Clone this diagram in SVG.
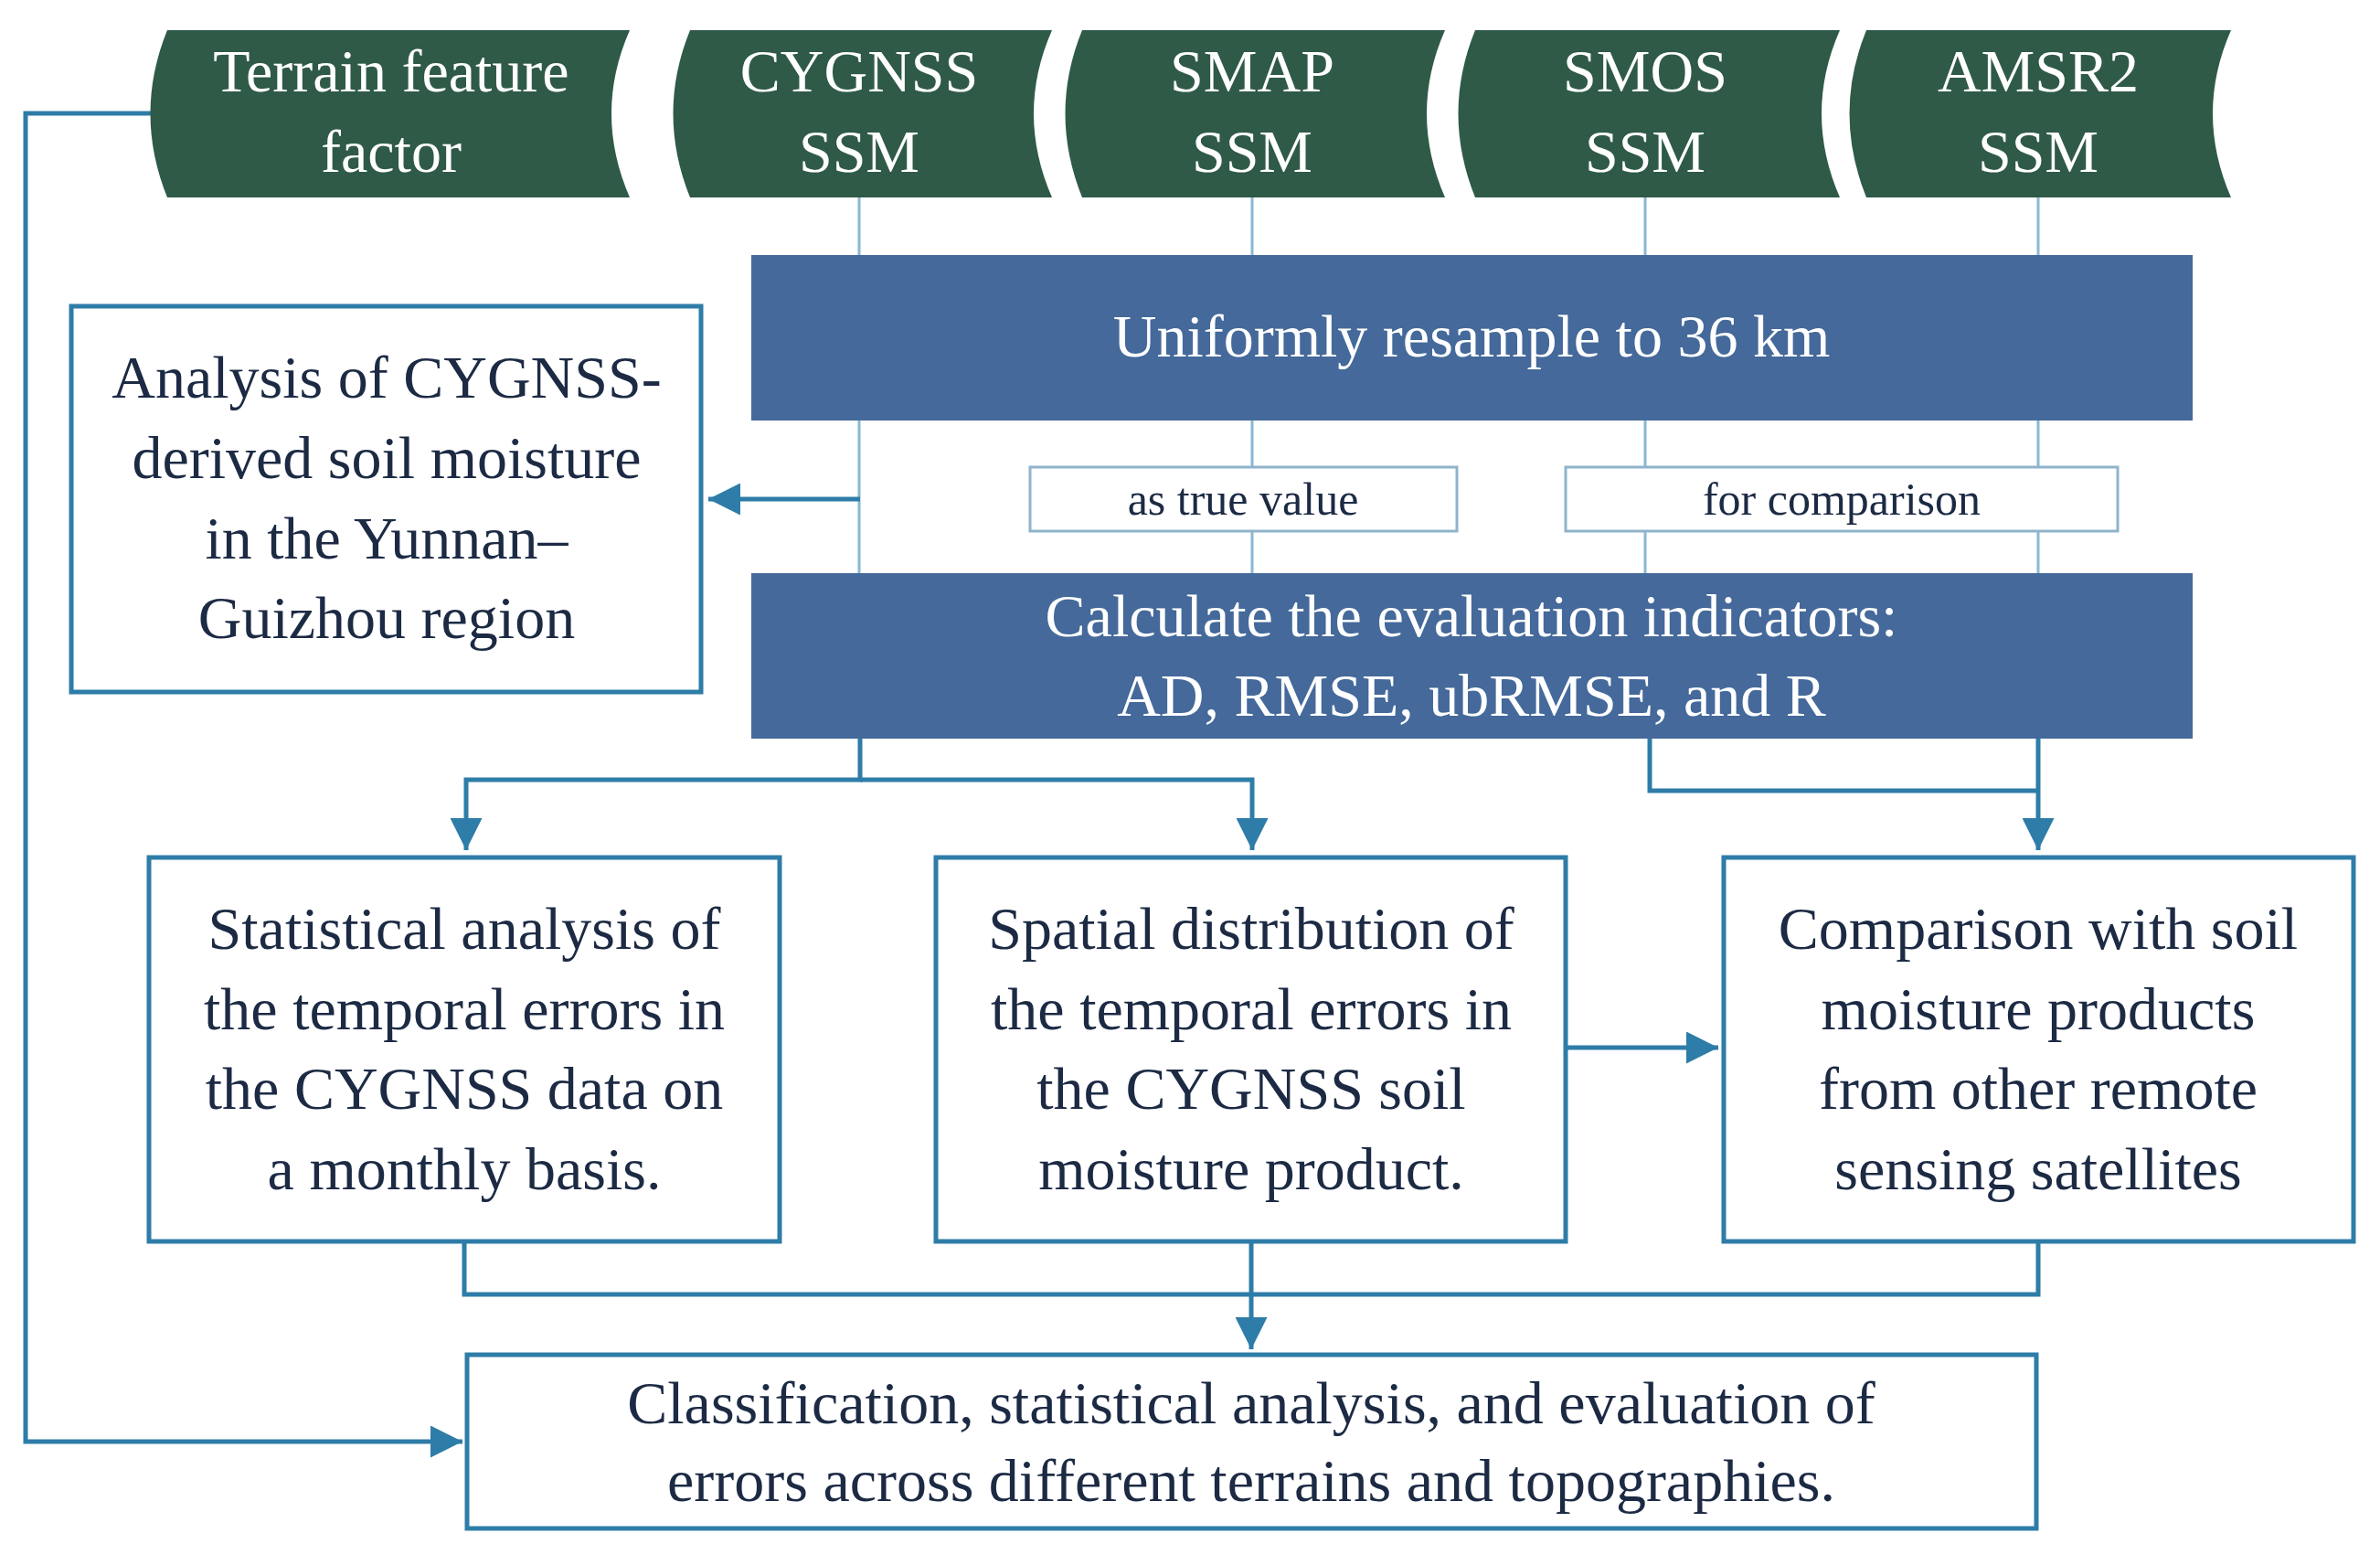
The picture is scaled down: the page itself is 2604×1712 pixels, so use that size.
<svg xmlns="http://www.w3.org/2000/svg" width="2604" height="1712" viewBox="0 0 2604 1712">
<defs>
<marker id="ah" viewBox="0 0 10 10" refX="10" refY="5" markerWidth="7" markerHeight="7" orient="auto" markerUnits="strokeWidth"><path d="M0,0 L10,5 L0,10 z" fill="#2e7ca8"/></marker>
<style>
.src{fill:#2f5a48}
.st{font-family:"Liberation Serif",serif;font-size:66px;fill:#fff;text-anchor:middle}
.bt{font-family:"Liberation Serif",serif;font-size:66px;fill:#1c2a44;text-anchor:middle}
.lt{font-family:"Liberation Serif",serif;font-size:50px;fill:#1c2a44;text-anchor:middle}
.wb{fill:#fff;stroke:#2e7ca8;stroke-width:5}
.lb{fill:#fff;stroke:#8fb4cc;stroke-width:3}
.blue{fill:#44699a}
.ln{stroke:#2e7ca8;stroke-width:5;fill:none}
.thin{stroke:#8ab8d3;stroke-width:3;fill:none}
</style>
</defs>
<g id="connectors">
<path class="thin" d="M940,216V627M1370,216V627M1800,216V627M2230,216V627"/>
<path class="ln" d="M941,546H775" marker-end="url(#ah)"/>
<path class="ln" d="M170,124H28V1577H506" marker-end="url(#ah)"/>
<path class="ln" d="M941,808V853H510V930" marker-end="url(#ah)"/>
<path class="ln" d="M941,853H1370V930" marker-end="url(#ah)"/>
<path class="ln" d="M1805,808V865H2230"/>
<path class="ln" d="M2230,808V930" marker-end="url(#ah)"/>
<path class="ln" d="M1713,1146H1880" marker-end="url(#ah)"/>
<path class="ln" d="M508,1358V1416H2230V1358"/>
<path class="ln" d="M1369,1358V1476" marker-end="url(#ah)"/>
</g>
<g id="terrain"><path class="src" d="M183,33H689Q649,124 689,216H183Q146,124 183,33z"/><text class="st" x="428" y="100">Terrain feature</text><text class="st" x="428" y="188">factor</text></g>
<g id="cygnss"><path class="src" d="M755,33H1151Q1111,124 1151,216H755Q718,124 755,33z"/><text class="st" x="940" y="100">CYGNSS</text><text class="st" x="940" y="188">SSM</text></g>
<g id="smap"><path class="src" d="M1184,33H1581Q1541,124 1581,216H1184Q1147,124 1184,33z"/><text class="st" x="1370" y="100">SMAP</text><text class="st" x="1370" y="188">SSM</text></g>
<g id="smos"><path class="src" d="M1614,33H2013Q1973,124 2013,216H1614Q1577,124 1614,33z"/><text class="st" x="1800" y="100">SMOS</text><text class="st" x="1800" y="188">SSM</text></g>
<g id="amsr2"><path class="src" d="M2042,33H2441Q2401,124 2441,216H2042Q2005,124 2042,33z"/><text class="st" x="2230" y="100">AMSR2</text><text class="st" x="2230" y="188">SSM</text></g>
<g id="resample"><rect class="blue" x="822" y="279" width="1577" height="181"/><text class="st" x="1610" y="390">Uniformly resample to 36 km</text></g>
<g id="truevalue"><rect class="lb" x="1127" y="511" width="467" height="70"/><text class="lt" x="1360" y="563">as true value</text></g>
<g id="comparison"><rect class="lb" x="1713" y="511" width="604" height="70"/><text class="lt" x="2015" y="563">for comparison</text></g>
<g id="calc"><rect class="blue" x="822" y="627" width="1577" height="181"/><text class="st" x="1610" y="696">Calculate the evaluation indicators:</text><text class="st" x="1610" y="783">AD, RMSE, ubRMSE, and R</text></g>
<g id="analysis"><rect class="wb" x="78" y="335" width="689" height="422"/><text class="bt" x="423" y="435">Analysis of CYGNSS-</text><text class="bt" x="423" y="523">derived soil moisture</text><text class="bt" x="423" y="611">in the Yunnan–</text><text class="bt" x="423" y="698">Guizhou region</text></g>
<g id="statistical"><rect class="wb" x="163" y="938" width="690" height="420"/><text class="bt" x="508" y="1038">Statistical analysis of</text><text class="bt" x="508" y="1126">the temporal errors in</text><text class="bt" x="508" y="1213">the CYGNSS data on</text><text class="bt" x="508" y="1301">a monthly basis.</text></g>
<g id="spatial"><rect class="wb" x="1024" y="938" width="689" height="420"/><text class="bt" x="1369" y="1038">Spatial distribution of</text><text class="bt" x="1369" y="1126">the temporal errors in</text><text class="bt" x="1369" y="1213">the CYGNSS soil</text><text class="bt" x="1369" y="1301">moisture product.</text></g>
<g id="compare"><rect class="wb" x="1886" y="938" width="689" height="420"/><text class="bt" x="2230" y="1038">Comparison with soil</text><text class="bt" x="2230" y="1126">moisture products</text><text class="bt" x="2230" y="1213">from other remote</text><text class="bt" x="2230" y="1301">sensing satellites</text></g>
<g id="classification"><rect class="wb" x="511" y="1482" width="1717" height="190"/><text class="bt" x="1369" y="1557">Classification, statistical analysis, and evaluation of</text><text class="bt" x="1369" y="1642">errors across different terrains and topographies.</text></g>
</svg>
